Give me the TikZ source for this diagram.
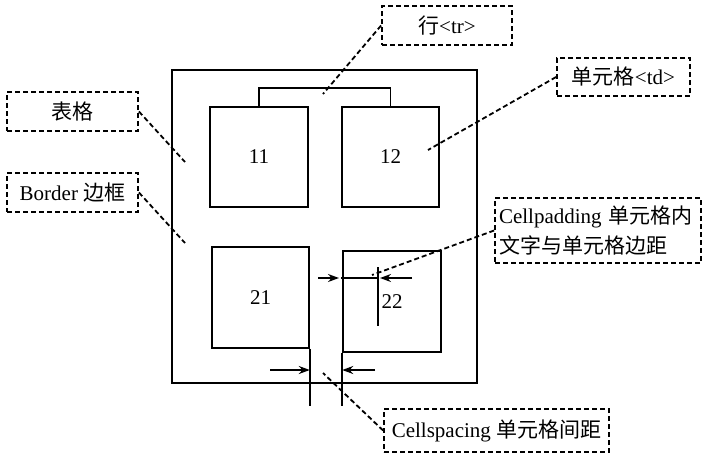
\documentclass[tikz,border=0pt]{standalone}
\usepackage{fontspec}
\setmainfont{Liberation Serif}
\newfontfamily\cjk{Noto Sans CJK SC}
\usetikzlibrary{arrows.meta,positioning,calc}

\begin{document}
\begin{tikzpicture}[x=1pt,y=-1pt,line width=1.6pt,
  font=\fontsize{21}{30}\selectfont,
  cellbox/.style={draw,minimum width=98pt,minimum height=100pt,inner sep=0pt},
  tagbox/.style={draw,dash pattern=on 5pt off 3pt,line width=1.8pt,inner sep=0pt,align=center},
  leader/.style={dash pattern=on 5pt off 3pt,line width=1.8pt},
  dimarrow/.style={-{Stealth[length=11pt,width=8pt]}}]
  \useasboundingbox (0,0) rectangle (725,464);

  \node[draw,minimum width=305pt,minimum height=313pt,inner sep=0pt] (tbl) at (324.5,226.5) {};
  \node[cellbox] (c11) at (259,157) {11};
  \node[cellbox,minimum width=97pt] (c12) at (390.5,157) {12};
  \node[cellbox,minimum width=97pt,minimum height=101pt] (c21) at (260.5,297.5) {21};
  \node[cellbox,minimum height=101pt] (c22) at (392,301.5) {22};
  \draw (c11.north) -- ++(0,-18) -| (c12.north);

  % cellspacing
  \draw (c21.south east) -- ++(0,57) coordinate (spL);
  \draw (c22.south west) -- ++(0,53) coordinate (spR);
  \coordinate (spLa) at (270,370);
  \coordinate (spRa) at (375,370);
  \draw[dimarrow] (spLa) -- (spLa -| spL);
  \draw[dimarrow] (spRa) -- (spRa -| spR);

  % cellpadding
  \coordinate (padT) at (378,267);
  \coordinate (padB) at (378,326);
  \draw (padT) -- (padB);
  \coordinate (padL) at (318,278);
  \coordinate (padR) at (412,278);
  \draw[dimarrow] (padL) -- (339,278);
  \draw (341,278) -- (padL -| padT);
  \draw[dimarrow] (padR) -- (380,278);

  \node[tagbox,minimum width=130pt,minimum height=39pt] (tr) at (447,25.5) {{\cjk 行}<tr>};
  \node[tagbox,minimum width=133pt,minimum height=38pt] (td) at (623.5,77) {{\cjk 单元格}<td>};
  \node[tagbox,minimum width=131pt,minimum height=39pt] (tblname) at (72.5,111.5) {{\cjk 表格}};
  \node[tagbox,minimum width=131pt,minimum height=39pt] (border) at (72.5,192.5) {Border {\cjk 边框}};
  \node[tagbox,minimum width=206pt,minimum height=65pt,text width=198pt,align=left] (pad) at (598,230.5)
    {Cellpadding {\cjk 单元格内}\\{\cjk 文字与单元格边距}};
  \node[tagbox,minimum width=225pt,minimum height=43pt] (spacing) at (496.5,430.5) {Cellspacing {\cjk 单元格间距}};

  \coordinate (trEnd) at (323,94);
  \coordinate (tdEnd) at (428,150);
  \coordinate (tblEnd) at (185,162);
  \coordinate (borderEnd) at (185,243);
  \coordinate (padEnd) at (372,275);
  \coordinate (spEnd) at (323,373);
  \draw[leader] (tr.west) -- (trEnd);
  \draw[leader] (td.west) -- (tdEnd);
  \draw[leader] (tblname.east) -- (tblEnd);
  \draw[leader] (border.east) -- (borderEnd);
  \draw[leader] (pad.west) -- (padEnd);
  \draw[leader] (spacing.west) -- (spEnd);
\end{tikzpicture}
\end{document}
